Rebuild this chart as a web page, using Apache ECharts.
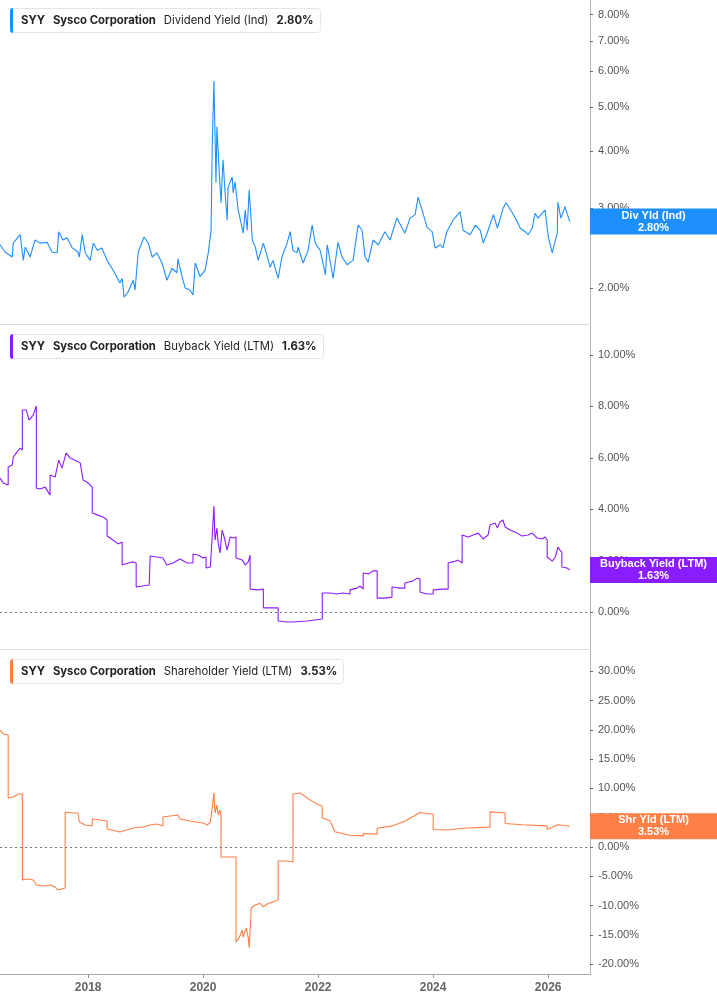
<!DOCTYPE html>
<html>
<head>
<meta charset="utf-8">
<title>SYY yields</title>
<script src="https://cdn.jsdelivr.net/npm/echarts@6/dist/echarts.min.js"></script>
<style>
html, body { margin: 0; padding: 0; background: #fff; }
#chart { width: 717px; height: 1005px; }
</style>
</head>
<body>
<div id="chart"></div>
<script>
// shared time range and year ticks
var xStart = '2016-06-20', xEnd = '2026-09-24';
var yearTicks = ['2018-01-01', '2020-01-01', '2022-01-01', '2024-01-01', '2026-01-01'];

// Dividend Yield (Ind), %
var divYield = [
    ['2016-06-21', 2.49], ['2016-07-22', 2.40], ['2016-09-06', 2.34], ['2016-09-12', 2.51], ['2016-10-26', 2.62],
    ['2016-11-15', 2.30], ['2016-11-27', 2.46], ['2016-12-28', 2.34], ['2017-01-28', 2.55], ['2017-03-01', 2.51],
    ['2017-04-15', 2.52], ['2017-05-16', 2.40], ['2017-06-18', 2.39], ['2017-06-28', 2.66], ['2017-07-25', 2.55],
    ['2017-08-20', 2.58], ['2017-09-22', 2.45], ['2017-10-28', 2.40], ['2017-11-06', 2.34], ['2017-11-24', 2.62],
    ['2017-12-13', 2.39], ['2018-01-14', 2.30], ['2018-02-03', 2.51], ['2018-02-28', 2.42], ['2018-03-29', 2.45],
    ['2018-05-01', 2.30], ['2018-06-08', 2.19], ['2018-07-22', 2.05], ['2018-08-05', 2.10], ['2018-08-17', 1.91],
    ['2018-09-12', 1.96], ['2018-10-14', 2.08], ['2018-10-26', 1.98], ['2018-11-15', 2.40], ['2018-12-22', 2.59],
    ['2019-01-18', 2.51], ['2019-02-12', 2.34], ['2019-03-14', 2.39], ['2019-04-15', 2.27], ['2019-05-16', 2.08],
    ['2019-06-18', 2.21], ['2019-07-19', 2.16], ['2019-07-25', 2.32], ['2019-08-20', 2.12], ['2019-09-09', 2.00],
    ['2019-10-10', 1.98], ['2019-10-29', 1.93], ['2019-11-12', 2.27], ['2019-12-13', 2.12], ['2020-01-14', 2.19],
    ['2020-02-03', 2.39], ['2020-02-21', 2.68], ['2020-02-28', 4.08], ['2020-03-10', 5.71], ['2020-03-23', 3.41],
    ['2020-03-29', 4.53], ['2020-04-12', 3.64], ['2020-04-24', 3.08], ['2020-05-07', 3.83], ['2020-05-20', 3.24],
    ['2020-06-02', 2.82], ['2020-06-08', 3.33], ['2020-07-04', 3.51], ['2020-07-10', 3.24], ['2020-07-22', 3.42],
    ['2020-08-11', 2.97], ['2020-09-12', 2.64], ['2020-09-25', 2.97], ['2020-10-07', 2.68], ['2020-10-20', 3.29],
    ['2020-11-09', 2.55], ['2020-11-28', 2.46], ['2020-12-16', 2.30], ['2021-01-18', 2.51], ['2021-02-13', 2.34],
    ['2021-03-02', 2.22], ['2021-03-20', 2.30], ['2021-04-22', 2.10], ['2021-05-16', 2.34], ['2021-06-18', 2.51],
    ['2021-07-07', 2.66], ['2021-07-25', 2.42], ['2021-08-20', 2.39], ['2021-08-26', 2.46], ['2021-09-28', 2.27],
    ['2021-10-29', 2.42], ['2021-11-24', 2.75], ['2021-12-13', 2.51], ['2022-01-14', 2.42], ['2022-02-16', 2.14],
    ['2022-02-28', 2.49], ['2022-04-06', 2.10], ['2022-05-07', 2.52], ['2022-06-02', 2.34], ['2022-07-04', 2.25],
    ['2022-08-11', 2.30], ['2022-09-12', 2.75], ['2022-10-07', 2.68], ['2022-10-26', 2.34], ['2022-11-15', 2.28],
    ['2022-12-16', 2.55], ['2023-01-18', 2.49], ['2023-03-01', 2.66], ['2023-04-03', 2.55], ['2023-05-16', 2.85],
    ['2023-07-06', 2.64], ['2023-08-08', 2.85], ['2023-09-09', 2.90], ['2023-09-28', 3.17], ['2023-10-23', 2.97],
    ['2023-11-24', 2.72], ['2023-12-26', 2.66], ['2024-01-14', 2.45], ['2024-02-16', 2.49], ['2024-03-04', 2.45],
    ['2024-03-28', 2.66], ['2024-05-07', 2.82], ['2024-06-21', 2.94], ['2024-07-10', 2.68], ['2024-08-24', 2.62],
    ['2024-09-25', 2.75], ['2024-10-26', 2.68], ['2024-11-15', 2.51], ['2024-12-16', 2.68], ['2025-01-18', 2.90],
    ['2025-02-13', 2.71], ['2025-03-20', 2.99], ['2025-04-09', 3.08], ['2025-05-16', 2.94], ['2025-06-18', 2.80],
    ['2025-07-07', 2.71], ['2025-08-08', 2.66], ['2025-08-27', 2.62], ['2025-09-22', 2.71], ['2025-10-10', 2.92],
    ['2025-10-29', 2.85], ['2025-12-13', 2.97], ['2026-01-02', 2.59], ['2026-01-27', 2.39], ['2026-02-28', 2.64],
    ['2026-03-04', 3.09], ['2026-03-23', 2.85], ['2026-04-18', 3.02], ['2026-05-01', 2.92], ['2026-05-19', 2.80]
];

// Buyback Yield (LTM), %
var buybackYield = [
    ['2016-06-21', 5.21], ['2016-07-10', 5.02], ['2016-08-11', 4.94], ['2016-08-11', 5.64], ['2016-09-06', 5.72],
    ['2016-09-12', 6.03], ['2016-10-07', 6.23], ['2016-10-26', 6.38], ['2016-11-09', 6.30], ['2016-11-09', 7.86],
    ['2016-12-04', 7.86], ['2016-12-22', 7.47], ['2017-01-18', 7.67], ['2017-02-06', 8.02], ['2017-02-06', 4.82],
    ['2017-03-01', 4.79], ['2017-04-03', 4.86], ['2017-05-04', 4.55], ['2017-05-04', 5.33], ['2017-06-05', 5.25],
    ['2017-06-28', 5.91], ['2017-07-19', 5.60], ['2017-08-14', 6.19], ['2017-09-09', 5.99], ['2017-10-10', 5.91],
    ['2017-11-12', 5.80], ['2017-11-30', 5.14], ['2018-01-02', 5.02], ['2018-01-27', 4.86], ['2018-01-27', 3.85],
    ['2018-03-04', 3.77], ['2018-04-06', 3.70], ['2018-05-01', 3.58], ['2018-05-01', 2.96], ['2018-06-08', 2.80],
    ['2018-07-10', 2.65], ['2018-08-05', 2.72], ['2018-08-05', 1.83], ['2018-09-12', 1.91], ['2018-10-14', 1.95],
    ['2018-11-02', 1.91], ['2018-11-02', 0.97], ['2018-12-10', 1.01], ['2019-01-24', 1.05], ['2019-01-30', 2.18],
    ['2019-03-14', 2.14], ['2019-04-21', 2.10], ['2019-05-16', 1.83], ['2019-06-24', 1.91], ['2019-08-08', 2.06],
    ['2019-09-22', 1.91], ['2019-10-29', 1.91], ['2019-10-29', 2.26], ['2019-11-30', 2.22], ['2020-01-02', 2.10],
    ['2020-01-20', 2.14], ['2020-01-20', 1.71], ['2020-02-16', 1.75], ['2020-02-28', 2.92], ['2020-03-10', 4.12],
    ['2020-03-17', 2.80], ['2020-03-29', 3.27], ['2020-04-06', 2.68], ['2020-04-18', 2.30], ['2020-05-01', 3.19],
    ['2020-05-14', 2.92], ['2020-06-02', 2.41], ['2020-06-21', 2.92], ['2020-07-10', 2.88], ['2020-07-28', 2.92],
    ['2020-07-28', 2.10], ['2020-09-06', 2.02], ['2020-09-25', 1.83], ['2020-10-14', 1.95], ['2020-10-26', 2.22],
    ['2020-10-26', 0.89], ['2020-12-10', 0.86], ['2021-01-18', 0.89], ['2021-01-18', 0.16], ['2021-03-14', 0.16],
    ['2021-04-22', 0.16], ['2021-04-22', -0.35], ['2021-06-18', -0.39], ['2021-07-25', -0.39], ['2021-10-23', -0.35],
    ['2022-01-27', -0.27], ['2022-01-27', 0.74], ['2022-03-17', 0.74], ['2022-05-01', 0.70], ['2022-06-08', 0.74],
    ['2022-07-22', 0.70], ['2022-07-22', 0.86], ['2022-09-06', 0.93], ['2022-09-25', 1.01], ['2022-10-14', 0.89],
    ['2022-10-14', 1.52], ['2022-11-15', 1.48], ['2022-12-16', 1.60], ['2023-01-11', 1.60], ['2023-01-11', 0.54],
    ['2023-03-01', 0.54], ['2023-04-15', 0.58], ['2023-04-15', 0.97], ['2023-06-05', 0.93], ['2023-07-06', 0.93],
    ['2023-07-06', 1.13], ['2023-08-27', 1.21], ['2023-09-22', 1.32], ['2023-10-10', 1.28], ['2023-10-10', 0.78],
    ['2023-11-24', 0.70], ['2024-01-02', 0.70], ['2024-01-02', 0.86], ['2024-02-28', 0.89], ['2024-04-06', 0.89],
    ['2024-04-06', 1.91], ['2024-05-07', 1.95], ['2024-06-08', 2.02], ['2024-07-04', 1.91], ['2024-07-04', 3.00],
    ['2024-08-11', 2.92], ['2024-09-12', 3.00], ['2024-10-14', 3.07], ['2024-11-15', 2.84], ['2024-12-16', 3.00],
    ['2024-12-28', 3.07], ['2024-12-28', 3.39], ['2025-01-29', 3.46], ['2025-02-13', 3.27], ['2025-03-01', 3.50],
    ['2025-03-20', 3.58], ['2025-04-03', 3.31], ['2025-05-04', 3.19], ['2025-06-18', 3.07], ['2025-07-19', 2.96],
    ['2025-08-27', 3.00], ['2025-09-22', 3.07], ['2025-10-23', 2.88], ['2025-11-24', 2.84], ['2025-12-13', 2.92],
    ['2025-12-26', 2.80], ['2025-12-26', 2.14], ['2026-01-27', 1.98], ['2026-02-16', 2.14], ['2026-03-04', 2.53],
    ['2026-03-17', 2.41], ['2026-03-29', 2.33], ['2026-03-29', 1.75], ['2026-05-01', 1.71], ['2026-05-19', 1.63]
];

// Shareholder Yield (LTM), %
var shareholderYield = [
    ['2016-06-21', 19.97], ['2016-07-10', 19.3], ['2016-08-11', 19.1], ['2016-08-11', 8.36], ['2016-09-12', 8.53],
    ['2016-10-14', 9.04], ['2016-11-09', 9.04], ['2016-11-09', -5.63], ['2016-12-16', -5.46], ['2017-01-18', -5.63],
    ['2017-02-06', -6.48], ['2017-03-20', -6.66], ['2017-05-04', -6.48], ['2017-06-05', -6.83], ['2017-06-24', -7.34],
    ['2017-08-08', -7.00], ['2017-08-08', 5.97], ['2017-09-22', 5.80], ['2017-10-28', 5.80], ['2017-11-06', 4.27],
    ['2017-12-13', 3.75], ['2018-01-27', 3.58], ['2018-01-27', 4.78], ['2018-03-17', 4.61], ['2018-05-01', 4.44],
    ['2018-05-01', 3.07], ['2018-07-22', 2.56], ['2018-10-14', 3.24], ['2018-12-16', 3.41], ['2019-01-30', 3.75],
    ['2019-03-14', 3.92], ['2019-04-21', 3.58], ['2019-04-21', 5.12], ['2019-06-05', 5.29], ['2019-07-25', 5.46],
    ['2019-08-08', 4.78], ['2019-10-10', 4.44], ['2020-01-02', 4.10], ['2020-01-27', 3.75], ['2020-02-16', 4.27],
    ['2020-02-28', 6.66], ['2020-03-10', 9.22], ['2020-03-17', 5.80], ['2020-03-29', 7.17], ['2020-04-06', 5.46],
    ['2020-04-18', 6.31], ['2020-04-24', 5.12], ['2020-04-24', -1.71], ['2020-06-02', -1.71], ['2020-07-28', -1.71],
    ['2020-07-28', -16.2], ['2020-08-17', -15.5], ['2020-09-06', -14.2], ['2020-09-12', -15.4], ['2020-10-01', -13.8],
    ['2020-10-14', -15.5], ['2020-10-20', -17.2], ['2020-11-02', -10.4], ['2020-11-28', -9.9], ['2020-12-28', -9.6],
    ['2021-01-18', -10.2], ['2021-02-19', -9.6], ['2021-03-20', -9.4], ['2021-04-22', -9.0], ['2021-04-22', -2.39],
    ['2021-06-18', -2.39], ['2021-07-25', -2.56], ['2021-07-25', 9.04], ['2021-09-09', 9.22], ['2021-11-12', 8.0],
    ['2022-01-02', 7.2], ['2022-01-27', 7.0], ['2022-01-27', 5.0], ['2022-03-17', 4.5], ['2022-04-18', 2.6],
    ['2022-07-22', 2.0], ['2022-10-14', 1.9], ['2022-10-14', 2.3], ['2023-01-11', 2.2], ['2023-01-11', 3.2],
    ['2023-04-15', 3.6], ['2023-07-06', 4.4], ['2023-10-10', 5.9], ['2024-01-02', 5.6], ['2024-01-02', 3.0],
    ['2024-04-06', 2.9], ['2024-07-04', 3.2], ['2024-12-28', 3.4], ['2024-12-28', 6.0], ['2025-04-03', 5.8],
    ['2025-04-03', 4.0], ['2025-07-19', 3.8], ['2025-12-26', 3.6], ['2025-12-26', 3.0], ['2026-03-04', 3.8],
    ['2026-05-19', 3.53]
];

// tick labels of the three right-hand axes
var divTicks = [2, 3, 4, 5, 6, 7, 8];
var buybackTicks = [0, 2, 4, 6, 8, 10];
var shareholderTicks = [-20, -15, -10, -5, 0, 5, 10, 15, 20, 25, 30];

var COLORS = ['#1e8fff', '#8b1cff', '#ff7f47'];
var GRID_TOP = [0, 325, 650], GRID_H = 324;

// top panel is drawn on a log scale; dates go on a numeric axis
var log10 = function (v) { return Math.log(v) / Math.LN10; };
var pct = function (v) { return v.toFixed(2) + '%'; };
var ts = function (s) { return Date.parse(s + 'T00:00:00Z'); };

function xAxisFor(i, last) {
    var ticks = yearTicks.map(ts);
    return {
        type: 'value', gridIndex: i, min: ts(xStart), max: ts(xEnd),
        axisLine: {show: true, onZero: false, lineStyle: {color: last ? '#a8a8a8' : '#d9d9d9'}},
        axisTick: {show: last, customValues: ticks, length: 4, lineStyle: {color: '#999'}},
        axisLabel: {
            show: last, customValues: ticks, margin: 8,
            color: '#666', fontSize: 12, fontWeight: 'bold', fontFamily: 'Liberation Sans',
            formatter: function (v) { return String(new Date(v).getUTCFullYear()); }
        },
        splitLine: {show: false}
    };
}

function yAxisFor(i, min, max, ticks, fmt) {
    return {
        type: 'value', gridIndex: i, position: 'right', min: min, max: max,
        axisLine: {show: true, onZero: false, lineStyle: {color: '#b5b5b5'}},
        axisTick: {show: true, length: 3, customValues: ticks, lineStyle: {color: '#666'}},
        axisLabel: {
            customValues: ticks, formatter: fmt, margin: 8,
            color: '#555', fontSize: 11, fontFamily: 'Liberation Sans'
        },
        splitLine: {show: false}
    };
}

// coloured value tag sitting on the right axis at the last point
function tagLine(data, name, color, tf) {
    var last = data[data.length - 1];
    var v = tf ? tf(last[1]) : last[1];
    return [{
        coord: [ts(last[0]), v],
        lineStyle: {color: 'rgba(0,0,0,0)', width: 0, opacity: 1},
        label: {
            show: true, position: 'end', distance: 0, opacity: 1,
            formatter: '{t|' + name + '}\n{t|' + pct(last[1]) + '}',
            backgroundColor: color, padding: [1, 0, 1, 0],
            rich: {t: {width: 127, align: 'center', color: '#fff', fontSize: 11, fontWeight: 'bold',
                fontFamily: 'Liberation Sans', lineHeight: 12}}
        }
    }, {coord: [ts(xEnd), v]}];
}

var zeroLine = {yAxis: 0, lineStyle: {color: '#777', type: [2, 3], width: 1}, label: {show: false}};

function header(i, name, value) {
    var c = COLORS[i];
    var font = {fontFamily: 'Inter', fontSize: 11.3, color: '#222', padding: [0, 0, 0, 8]};
    return {
        left: 10, top: GRID_TOP[i] + (i ? 9 : 8),
        text: '{bar|}{b|SYY}{b|Sysco Corporation}{n|' + name + '}{b|' + value + '}',
        backgroundColor: '#fff', borderColor: '#e6e6e6', borderWidth: 1, borderRadius: 3,
        padding: [0, 7, 0, 0],
        textStyle: {
            rich: {
                bar: {width: 3, height: 25, backgroundColor: c, borderRadius: [3, 0, 0, 3]},
                b: Object.assign({fontWeight: 'bold'}, font),
                n: Object.assign({fontWeight: 'normal'}, font)
            }
        }
    };
}

function lineSeries(i, data, markData, tf) {
    return {
        type: 'line', xAxisIndex: i, yAxisIndex: i,
        data: data.map(function (d) { return [ts(d[0]), tf ? tf(d[1]) : d[1]]; }),
        showSymbol: false, symbol: 'none', smooth: false, animation: false,
        lineStyle: {color: COLORS[i], width: 1.1},
        markLine: {silent: true, symbol: ['none', 'none'], animation: false, data: markData}
    };
}

var option = {
    animation: false,
    title: [
        header(0, 'Dividend Yield (Ind)', pct(divYield[divYield.length - 1][1])),
        header(1, 'Buyback Yield (LTM)', pct(buybackYield[buybackYield.length - 1][1])),
        header(2, 'Shareholder Yield (LTM)', pct(shareholderYield[shareholderYield.length - 1][1]))
    ],
    grid: GRID_TOP.map(function (t) {
        return {left: 0, right: 127, top: t, height: GRID_H, containLabel: false};
    }),
    xAxis: [xAxisFor(0, false), xAxisFor(1, false), xAxisFor(2, true)],
    yAxis: [
        yAxisFor(0, log10(1.666), log10(8.61), divTicks.map(log10),
            function (v) { return pct(Math.pow(10, v)); }),
        yAxisFor(1, -1.44, 11.17, buybackTicks, pct),
        yAxisFor(2, -21.67, 33.62, shareholderTicks, pct)
    ],
    series: [
        lineSeries(0, divYield, [tagLine(divYield, 'Div Yld (Ind)', COLORS[0], log10)], log10),
        lineSeries(1, buybackYield, [zeroLine, tagLine(buybackYield, 'Buyback Yield (LTM)', COLORS[1])]),
        lineSeries(2, shareholderYield, [zeroLine, tagLine(shareholderYield, 'Shr Yld (LTM)', COLORS[2])])
    ]
};

var myChart = echarts.init(document.getElementById('chart'), null, {renderer: 'canvas'});
myChart.setOption(option);
</script>
</body>
</html>
